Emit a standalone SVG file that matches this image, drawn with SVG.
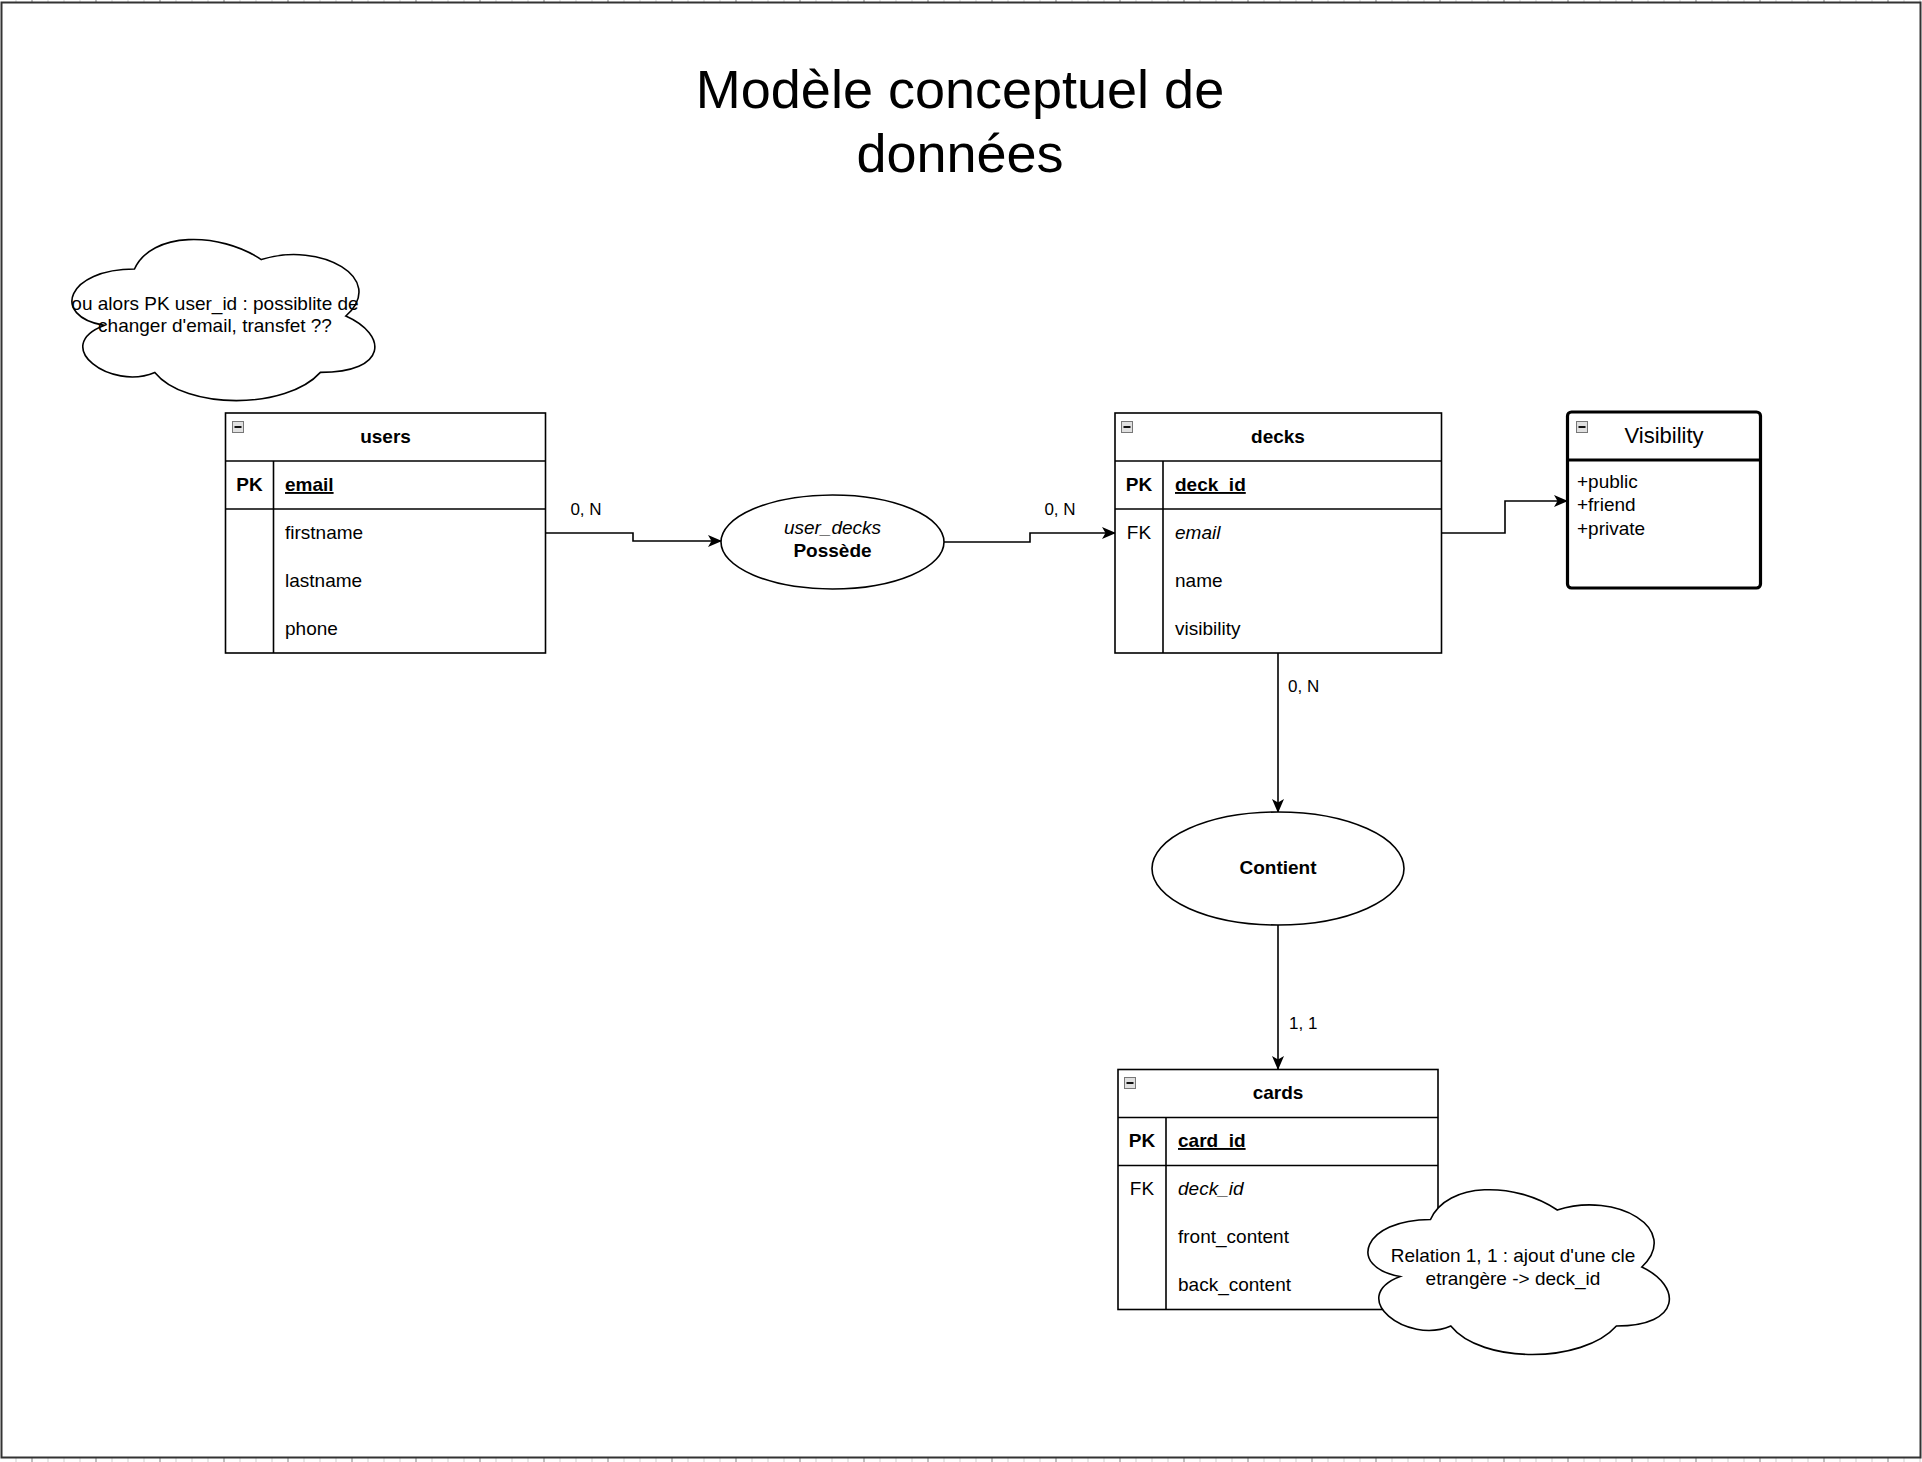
<svg xmlns="http://www.w3.org/2000/svg" width="1922" height="1462" viewBox="0 0 1922 1462">
<style>
text{font-family:"Liberation Sans",Arial,sans-serif;fill:#000}
.t{font-size:19px}
.b{font-weight:bold}
.i{font-style:italic}
.u{text-decoration:underline}
.c{text-anchor:middle}
.lbl{font-size:17px}
.box{fill:#fff;stroke:#000;stroke-width:1.6}
.ln{fill:none;stroke:#000;stroke-width:1.6}
.edge{fill:none;stroke:#000;stroke-width:1.6;marker-end:url(#arr)}
.ico{fill:#e0e0e0;stroke:#777;stroke-width:1}
.icm{stroke:#111;stroke-width:2}
</style>
<defs>
<marker id="arr" markerUnits="userSpaceOnUse" viewBox="0 0 14 12" refX="13" refY="6" markerWidth="14" markerHeight="12" orient="auto">
<path d="M14,6 L0,0 L3.5,6 L0,12 Z" fill="#000"/>
</marker>
</defs>
<rect x="0" y="0" width="1922" height="1462" fill="#fff"/>
<g id="frame">
<line x1="15.5" y1="1460" x2="1922" y2="1460" stroke="#d0d0d0" stroke-width="4" stroke-dasharray="1 15"/>
<line x1="31.5" y1="1460" x2="1922" y2="1460" stroke="#9a9a9a" stroke-width="4" stroke-dasharray="1 63"/>
<line x1="15.5" y1="1" x2="1922" y2="1" stroke="#d0d0d0" stroke-width="2" stroke-dasharray="1 15"/>
<line x1="31.5" y1="1" x2="1922" y2="1" stroke="#9a9a9a" stroke-width="2" stroke-dasharray="1 63"/>
<rect x="1.5" y="2.5" width="1919" height="1455" fill="none" stroke="#333" stroke-width="2"/>
</g>
<g id="title">
<text x="960" y="108" font-size="54" class="c">Modèle conceptuel de</text>
<text x="960" y="172" font-size="54" class="c">données</text>
</g>
<g id="connectors">
<polyline class="edge" points="545.5,533 633,533 633,541 721,541"/>
<polyline class="edge" points="944,542 1030,542 1030,533 1115,533"/>
<polyline class="edge" points="1441.5,533 1505,533 1505,501 1567,501"/>
<line class="edge" x1="1278" y1="653" x2="1278" y2="812"/>
<line class="edge" x1="1278" y1="925" x2="1278" y2="1069"/>
<text class="lbl c" x="586" y="515">0, N</text>
<text class="lbl c" x="1060" y="515">0, N</text>
<text class="lbl" x="1288" y="692">0, N</text>
<text class="lbl" x="1289" y="1029">1, 1</text>
</g>
<g id="cloud-note-users">
<path class="box" d="M134.5,269 C66.9,269 50,316 104.1,325.4 C50,346.1 110.8,391.2 154.8,372.4 C185.2,410 286.6,410 320.4,372.4 C388,372.4 388,334.8 345.8,316 C388,278.4 320.4,240.8 261.3,259.6 C219,231.4 151.4,231.4 134.5,269 Z"/>
<text class="t c" x="215" y="310">ou alors PK user_id : possiblite de</text>
<text class="t c" x="215" y="332">changer d'email, transfet ??</text>
</g>
<g id="users">
<rect class="box" x="225.5" y="413" width="320" height="240"/>
<line class="ln" x1="225.5" y1="461" x2="545.5" y2="461"/>
<line class="ln" x1="225.5" y1="509" x2="545.5" y2="509"/>
<line class="ln" x1="273.5" y1="461" x2="273.5" y2="653"/>
<rect class="ico" x="232.5" y="421.5" width="11" height="11"/>
<line class="icm" x1="234.5" y1="427" x2="241.5" y2="427"/>
<text class="t b c" x="385.5" y="443">users</text>
<text class="t b c" x="249.5" y="491">PK</text>
<text class="t b u" x="285" y="491">email</text>
<text class="t" x="285" y="539">firstname</text>
<text class="t" x="285" y="587">lastname</text>
<text class="t" x="285" y="635">phone</text>
</g>
<g id="user_decks">
<ellipse class="box" cx="832.5" cy="542" rx="111.5" ry="47"/>
<text class="t i c" x="832.5" y="534">user_decks</text>
<text class="t b c" x="832.5" y="557">Possède</text>
</g>
<g id="decks">
<rect class="box" x="1115" y="413" width="326.5" height="240"/>
<line class="ln" x1="1115" y1="461" x2="1441.5" y2="461"/>
<line class="ln" x1="1115" y1="509" x2="1441.5" y2="509"/>
<line class="ln" x1="1163" y1="461" x2="1163" y2="653"/>
<rect class="ico" x="1121.5" y="421.5" width="11" height="11"/>
<line class="icm" x1="1123.5" y1="427" x2="1130.5" y2="427"/>
<text class="t b c" x="1278" y="443">decks</text>
<text class="t b c" x="1139" y="491">PK</text>
<text class="t b u" x="1175" y="491">deck_id</text>
<text class="t c" x="1139" y="539">FK</text>
<text class="t i" x="1175" y="539">email</text>
<text class="t" x="1175" y="587">name</text>
<text class="t" x="1175" y="635">visibility</text>
</g>
<g id="visibility">
<rect x="1567.5" y="412" width="193" height="176" rx="4" ry="4" fill="#fff" stroke="#000" stroke-width="3.2"/>
<line x1="1567.5" y1="460" x2="1760.5" y2="460" stroke="#000" stroke-width="3.2"/>
<rect class="ico" x="1576.5" y="421.5" width="11" height="11"/>
<line class="icm" x1="1578.5" y1="427" x2="1585.5" y2="427"/>
<text class="c" font-size="22" x="1664" y="443">Visibility</text>
<text class="t" x="1577" y="488">+public</text>
<text class="t" x="1577" y="511">+friend</text>
<text class="t" x="1577" y="535">+private</text>
</g>
<g id="contient">
<ellipse class="box" cx="1278" cy="868.5" rx="126" ry="56.5"/>
<text class="t b c" x="1278" y="874">Contient</text>
</g>
<g id="cards">
<rect class="box" x="1118" y="1069.5" width="320" height="240"/>
<line class="ln" x1="1118" y1="1117.5" x2="1438" y2="1117.5"/>
<line class="ln" x1="1118" y1="1165.5" x2="1438" y2="1165.5"/>
<line class="ln" x1="1166" y1="1117.5" x2="1166" y2="1309.5"/>
<rect class="ico" x="1124.5" y="1077.5" width="11" height="11"/>
<line class="icm" x1="1126.5" y1="1083" x2="1133.5" y2="1083"/>
<text class="t b c" x="1278" y="1099">cards</text>
<text class="t b c" x="1142" y="1147">PK</text>
<text class="t b u" x="1178" y="1147">card_id</text>
<text class="t c" x="1142" y="1195">FK</text>
<text class="t i" x="1178" y="1195">deck_id</text>
<text class="t" x="1178" y="1243">front_content</text>
<text class="t" x="1178" y="1291">back_content</text>
</g>
<g id="cloud-note-cards">
<path class="box" d="M1430.5,1219.5 C1362.9,1219.5 1346,1267 1400.1,1276.5 C1346,1297.4 1406.8,1345 1450.8,1326 C1481.2,1364 1582.6,1364 1616.4,1326 C1682,1326 1682,1286 1641.8,1267 C1682,1229 1616.4,1191 1557.3,1210 C1515,1181.5 1447.4,1181.5 1430.5,1219.5 Z"/>
<text class="t c" x="1513" y="1262">Relation 1, 1 : ajout d'une cle</text>
<text class="t c" x="1513" y="1285">etrangère -&gt; deck_id</text>
</g>
</svg>
